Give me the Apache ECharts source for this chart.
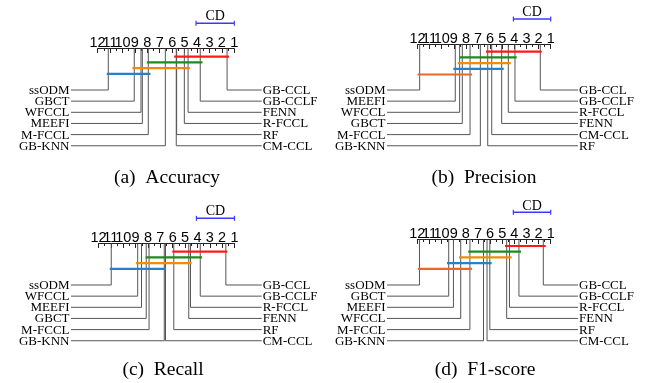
<!DOCTYPE html>
<html><head><meta charset="utf-8">
<script src="https://cdn.jsdelivr.net/npm/echarts@6/dist/echarts.min.js"></script>
<style>html,body{margin:0;padding:0;background:#fff}#c{width:645px;height:383px}</style>
</head><body><div id="c"></div>
<script>
// ---- data ----
const rankTicks = [1, 2, 3, 4, 5, 6, 7, 8, 9, 10, 11, 12];
const methods = ['GB-CCL', 'GB-CCLF', 'FENN', 'R-FCCL', 'RF', 'CM-CCL', 'GB-KNN', 'M-FCCL', 'MEEFI', 'WFCCL', 'GBCT', 'ssODM'];
const ranksAccuracy  = [1.58, 3.74, 4.72, 5.02, 5.64, 5.67, 6.55, 7.92, 8.40, 8.51, 9.05, 11.14];
const ranksPrecision = [1.86, 3.95, 5.05, 4.50, 6.20, 5.87, 6.81, 7.66, 8.88, 8.52, 8.30, 11.82];
const ranksRecall    = [1.70, 3.77, 4.70, 4.56, 5.91, 6.58, 6.68, 7.91, 8.52, 8.83, 8.14, 10.97];
const ranksF1        = [1.61, 3.62, 4.63, 4.40, 6.02, 6.25, 6.54, 7.66, 9.02, 8.42, 9.41, 11.82];
// clique bars: [from rank, to rank]
const cliquesAccuracy  = [[1.43, 5.84], [3.56, 8.04], [4.57, 9.20], [7.75, 11.26]];
const cliquesPrecision = [[1.74, 6.34], [3.81, 8.49], [4.30, 8.68], [4.88, 9.04], [7.50, 12.00]];
const cliquesRecall    = [[1.58, 6.03], [3.63, 8.18], [4.46, 8.97], [6.56, 11.09]];
const cliquesF1        = [[1.41, 4.77], [3.45, 7.80], [4.22, 8.56], [5.87, 9.55], [7.49, 11.94]];
const criticalDifference = 3.08;
const captions = ['(a)  Accuracy', '(b)  Precision', '(c)  Recall', '(d)  F1-score'];

// ---- styles / layout ----
const cliqueColors = ['#ff1a1a', '#1c8c1c', '#f08c0a', '#2a80c8', '#e8682c'];
const panels = [
  {ranks: ranksAccuracy,  cliques: cliquesAccuracy,  x12: 97.6,  x1: 234.3, axisY: 48.5,  rowY: 90,  leftEdge: 71,  rightEdge: 261.7, barY: 56.7,  cdY: 23.3,  cdTextY: 16.5,  capX: 167, capY: 178},
  {ranks: ranksPrecision, cliques: cliquesPrecision, x12: 417.5, x1: 550.7, axisY: 44.5,  rowY: 90,  leftEdge: 387, rightEdge: 578,   barY: 51.7,  cdY: 19,    cdTextY: 12.5,  capX: 484, capY: 178},
  {ranks: ranksRecall,    cliques: cliquesRecall,    x12: 98.5,  x1: 234.5, axisY: 243.5, rowY: 285, leftEdge: 71,  rightEdge: 261.7, barY: 251.7, cdY: 218.3, cdTextY: 211.5, capX: 163, capY: 370},
  {ranks: ranksF1,        cliques: cliquesF1,        x12: 417.3, x1: 550.7, axisY: 239.5, rowY: 285, leftEdge: 387, rightEdge: 578,   barY: 246,   cdY: 212.3, cdTextY: 206.5, capX: 485, capY: 370}
];
const rowGap = 11.15, barGap = 5.7;
const serif = '"Liberation Serif", "Times New Roman", serif';
const sans = '"Liberation Sans", Arial, sans-serif';

const grids = [], xAxes = [], yAxes = [], series = [], graphics = [];
panels.forEach((p, pi) => {
  const height = p.rowY + 5 * rowGap - p.axisY;
  const ppu = (p.x1 - p.x12) / 11;
  grids.push({left: p.x12, top: p.axisY, width: p.x1 - p.x12, height: height, containLabel: false});
  xAxes.push({
    gridIndex: pi, type: 'value', min: rankTicks[0], max: rankTicks[rankTicks.length - 1], interval: 1,
    inverse: true, position: 'top',
    axisLine: {show: true, onZero: false, lineStyle: {color: '#222', width: 1}},
    axisTick: {show: true, inside: true, length: 4.5, lineStyle: {color: '#222', width: 1}},
    minorTick: {show: true, splitNumber: 2, length: 2.5, lineStyle: {color: '#222', width: 1}},
    splitLine: {show: false},
    axisLabel: {show: false}
  });
  yAxes.push({gridIndex: pi, type: 'value', min: 0, max: height, inverse: true, show: false});

  // tick labels (drawn individually so overlapping labels are all kept)
  series.push({
    type: 'custom', xAxisIndex: pi, yAxisIndex: pi, clip: false, silent: true, z: 4,
    data: rankTicks.map(t => [t, 0]),
    renderItem: (params, api) => {
      const a = api.coord([api.value(0), api.value(1)]);
      return {type: 'text', x: a[0], y: a[1] + 1.5,
              style: {text: String(api.value(0)), align: 'center', verticalAlign: 'bottom', font: '14.5px ' + sans, fill: '#000'}};
    }
  });

  // order methods into left (worst) and right (best) halves
  const idx = methods.map((m, i) => i);
  const asc = idx.slice().sort((a, b) => p.ranks[a] - p.ranks[b]);
  const right = asc.slice(0, 6);
  const left = asc.slice(6).reverse();
  const leftEdgeRank = 12 + (p.x12 - p.leftEdge) / ppu;
  const rightEdgeRank = 1 - (p.rightEdge - p.x1) / ppu;
  const stemItems = [], stemNames = [];
  left.forEach((mi, row) => { stemItems.push([p.ranks[mi], p.rowY - p.axisY + row * rowGap, leftEdgeRank, 0]); stemNames.push(methods[mi]); });
  right.forEach((mi, row) => { stemItems.push([p.ranks[mi], p.rowY - p.axisY + row * rowGap, rightEdgeRank, 1]); stemNames.push(methods[mi]); });

  series.push({
    type: 'custom', xAxisIndex: pi, yAxisIndex: pi, clip: false, silent: true, z: 2,
    data: stemItems,
    renderItem: (params, api) => {
      const r = api.value(0), ry = api.value(1), er = api.value(2), side = api.value(3);
      const a = api.coord([r, 0]), b = api.coord([r, ry]), c = api.coord([er, ry]);
      return {type: 'group', children: [
        {type: 'polyline', shape: {points: [a, b, c]}, style: {stroke: '#555', lineWidth: 1, fill: null}},
        {type: 'text', x: c[0] + (side ? 1 : -1.5), y: c[1] + 0.5,
         style: {text: stemNames[params.dataIndex], align: side ? 'left' : 'right', verticalAlign: 'middle',
                 font: '13px ' + serif, fill: '#000'}}
      ]};
    }
  });

  series.push({
    type: 'custom', xAxisIndex: pi, yAxisIndex: pi, clip: false, silent: true, z: 3,
    data: p.cliques.map((c, k) => [c[0], c[1], p.barY - p.axisY + k * barGap, k]),
    renderItem: (params, api) => {
      const a = api.coord([api.value(0), api.value(2)]), b = api.coord([api.value(1), api.value(2)]);
      return {type: 'line', shape: {x1: a[0], y1: a[1], x2: b[0], y2: b[1]},
              style: {stroke: cliqueColors[api.value(3)], lineWidth: 2.2}};
    }
  });

  series.push({
    type: 'custom', xAxisIndex: pi, yAxisIndex: pi, clip: false, silent: true, z: 3,
    data: [[1, 1 + criticalDifference, p.cdY - p.axisY, p.cdTextY - p.axisY]],
    renderItem: (params, api) => {
      const a = api.coord([api.value(0), api.value(2)]), b = api.coord([api.value(1), api.value(2)]);
      const t = api.coord([(api.value(0) + api.value(1)) / 2, api.value(3)]);
      const col = '#3a3aff';
      return {type: 'group', children: [
        {type: 'line', shape: {x1: a[0], y1: a[1], x2: b[0], y2: b[1]}, style: {stroke: col, lineWidth: 1.5}},
        {type: 'line', shape: {x1: a[0], y1: a[1] - 2.5, x2: a[0], y2: a[1] + 2.5}, style: {stroke: col, lineWidth: 1.2}},
        {type: 'line', shape: {x1: b[0], y1: b[1] - 2.5, x2: b[0], y2: b[1] + 2.5}, style: {stroke: col, lineWidth: 1.2}},
        {type: 'text', x: t[0], y: t[1], style: {text: 'CD', align: 'center', verticalAlign: 'middle', font: '14px ' + serif, fill: '#000'}}
      ]};
    }
  });

  graphics.push({type: 'text', x: p.capX, y: p.capY, style: {text: captions[pi], align: 'center', verticalAlign: 'middle', font: '19.5px ' + serif, fill: '#000'}});
});

const chart = echarts.init(document.getElementById('c'), null, {renderer: 'canvas'});
chart.setOption({
  animation: false,
  backgroundColor: '#fff',
  grid: grids, xAxis: xAxes, yAxis: yAxes, series: series, graphic: graphics
});
</script>
</body></html>
